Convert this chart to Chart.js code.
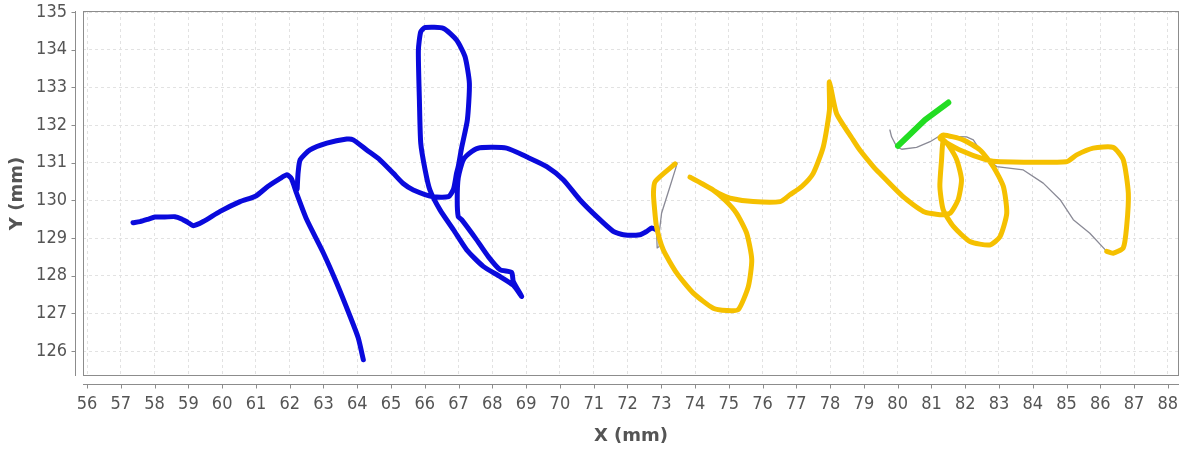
<!DOCTYPE html>
<html>
<head>
<meta charset="utf-8">
<script src="https://cdn.jsdelivr.net/npm/chart.js@4"></script>
<style>
  html, body { margin: 0; padding: 0; background: #fff; }
  canvas { display: block; }
</style>
</head>
<body>
<canvas id="trace" width="1184" height="452"></canvas>
<script>
// pen strokes, [x, y] in mm
const blueStroke1 = [
  [57.36, 129.41], [57.57, 129.44], [57.8, 129.5], [58.01, 129.56], [58.3, 129.56],
  [58.6, 129.57], [58.8, 129.51], [58.98, 129.42], [59.15, 129.33], [59.44, 129.44],
  [59.94, 129.71], [60.53, 129.97], [61.0, 130.12], [61.35, 130.37], [61.71, 130.58],
  [61.92, 130.68], [62.05, 130.58], [62.2, 130.2], [62.5, 129.5], [63.0, 128.6],
  [63.39, 127.81], [63.79, 126.92], [64.03, 126.35], [64.18, 125.77]
];
const blueStroke2 = [
  [62.22, 130.3], [62.25, 130.75], [62.31, 131.08], [62.6, 131.34], [63.1, 131.52],
  [63.69, 131.63], [63.88, 131.61], [64.28, 131.34], [64.67, 131.08], [65.07, 130.72],
  [65.36, 130.45], [65.66, 130.28], [66.25, 130.1], [66.7, 130.1], [66.85, 130.3],
  [66.94, 130.72], [66.99, 130.9], [67.09, 131.4], [67.26, 132.14], [67.32, 133.11],
  [67.19, 133.82], [66.94, 134.26], [66.55, 134.57], [66.01, 134.59], [65.88, 134.48],
  [65.81, 133.99], [65.84, 132.67], [65.88, 131.52], [66.01, 130.81], [66.15, 130.28],
  [66.45, 129.75], [66.85, 129.22], [67.24, 128.69], [67.73, 128.25], [68.23, 127.98],
  [68.62, 127.75], [68.87, 127.45], [68.62, 127.85], [68.57, 128.09], [68.23, 128.16],
  [67.88, 128.51], [67.53, 128.96], [67.09, 129.49], [66.99, 129.57], [66.96, 130.02],
  [66.99, 130.6], [67.14, 131.08], [67.39, 131.3], [67.63, 131.4], [68.42, 131.39],
  [69.01, 131.16], [69.61, 130.9], [70.1, 130.55], [70.59, 130.02], [71.09, 129.57],
  [71.58, 129.18], [71.88, 129.09], [72.37, 129.09], [72.57, 129.18], [72.72, 129.27],
  [72.86, 129.22]
];
const grayStroke1 = [
  [72.86, 129.22], [72.88, 128.74], [72.94, 128.78], [72.94, 129.13], [73.01, 129.66],
  [73.26, 130.37], [73.43, 130.86], [73.47, 130.99], [73.41, 130.97]
];
const yellowStroke = [
  [73.41, 130.97], [72.82, 130.5], [72.77, 130.19], [72.8, 129.8], [72.86, 129.31],
  [73.06, 128.69], [73.46, 128.07], [73.95, 127.54], [74.54, 127.14], [74.94, 127.08],
  [75.28, 127.1], [75.58, 127.72], [75.68, 128.43], [75.53, 129.13], [75.23, 129.66],
  [74.9, 130.0], [74.5, 130.3], [74.1, 130.5], [73.85, 130.62], [74.2, 130.45],
  [74.74, 130.17], [75.04, 130.06], [75.72, 129.97], [76.52, 129.97], [76.81, 130.15],
  [77.16, 130.37], [77.5, 130.72], [77.8, 131.43], [77.98, 132.4], [77.98, 133.15],
  [78.19, 132.31], [78.68, 131.61], [78.88, 131.34], [79.28, 130.9], [79.47, 130.72],
  [80.16, 130.1], [80.76, 129.71], [81.25, 129.62], [81.55, 129.66], [81.79, 130.02],
  [81.89, 130.55], [81.75, 131.08], [81.5, 131.47], [81.35, 131.6], [81.3, 131.08],
  [81.25, 130.37], [81.35, 129.75], [81.65, 129.31], [82.14, 128.91], [82.73, 128.82],
  [83.03, 129.04], [83.23, 129.66], [83.13, 130.37], [82.83, 130.9], [82.44, 131.34],
  [81.94, 131.61], [81.35, 131.74], [81.25, 131.65], [81.84, 131.34], [82.63, 131.08],
  [83.03, 131.03], [85.0, 131.03], [85.3, 131.21], [85.79, 131.39], [86.38, 131.41],
  [86.68, 131.08], [86.83, 130.19], [86.78, 129.31], [86.68, 128.74], [86.38, 128.6],
  [86.19, 128.65]
];
const grayStroke2 = [
  [79.77, 131.87], [79.82, 131.69], [79.97, 131.43], [80.12, 131.36], [80.56, 131.41],
  [80.96, 131.56], [81.2, 131.69], [81.4, 131.71], [82.04, 131.69], [82.24, 131.61],
  [82.44, 131.34], [82.49, 131.25], [82.93, 130.9], [83.72, 130.81], [84.31, 130.46],
  [84.81, 130.02], [85.2, 129.49], [85.69, 129.13], [86.19, 128.65]
];
const greenStroke = [
  [80.01, 131.45], [80.81, 132.14], [81.5, 132.6]
];

const xTickValues = [56, 57, 58, 59, 60, 61, 62, 63, 64, 65, 66, 67, 68, 69, 70, 71, 72,
  73, 74, 75, 76, 77, 78, 79, 80, 81, 82, 83, 84, 85, 86, 87, 88];
const yTickValues = [126, 127, 128, 129, 130, 131, 132, 133, 134, 135];

const toPoints = (arr) => arr.map(([x, y]) => ({ x, y }));

function stroke(data, color, width, tension) {
  return {
    data: toPoints(data),
    borderColor: color,
    borderWidth: width,
    showLine: true,
    pointRadius: 0,
    tension: tension,
    borderCapStyle: "round",
    borderJoinStyle: "round",
  };
}

// box around the plot plus the detached axis lines with small ticks
const framePlugin = {
  id: "frame",
  beforeDatasetsDraw(chart) {
    const { ctx, chartArea: a, scales } = chart;
    ctx.save();
    ctx.strokeStyle = "#8c8c8c";
    ctx.lineWidth = 1;
    ctx.strokeRect(a.left + 0.5, a.top + 0.5, a.width - 1, a.height - 1);

    const axX = a.left - 7.5;
    const axY = a.bottom + 8.5;
    ctx.beginPath();
    ctx.moveTo(axX, a.top);
    ctx.lineTo(axX, a.bottom);
    ctx.moveTo(a.left, axY);
    ctx.lineTo(a.right, axY);
    scales.x.ticks.forEach((t) => {
      const px = Math.round(scales.x.getPixelForValue(t.value)) + 0.5;
      ctx.moveTo(px, axY);
      ctx.lineTo(px, axY + 4);
    });
    scales.y.ticks.forEach((t) => {
      const py = Math.round(scales.y.getPixelForValue(t.value)) + 0.5;
      ctx.moveTo(axX, py);
      ctx.lineTo(axX - 4, py);
    });
    ctx.stroke();
    ctx.restore();
  },
};

const tickFont = { family: "Tahoma, 'DejaVu Sans Condensed', 'Liberation Sans', sans-serif", size: 18 };
const titleFont = { family: "Tahoma, 'DejaVu Sans', sans-serif", size: 18, weight: "bold" };

new Chart(document.getElementById("trace"), {
  type: "scatter",
  data: {
    datasets: [
      stroke(greenStroke, "#22dd22", 6, 0),
      stroke(yellowStroke, "#f5c000", 5, 0.2),
      stroke(blueStroke1, "#0a0adc", 5, 0.2),
      stroke(blueStroke2, "#0a0adc", 5, 0.2),
      stroke(grayStroke1, "#8a8a96", 1.3, 0),
      stroke(grayStroke2, "#8a8a96", 1.3, 0),
    ],
  },
  options: {
    responsive: false,
    animation: false,
    layout: { padding: { top: 11, right: 5, left: 0, bottom: 0 } },
    plugins: { legend: { display: false }, tooltip: { enabled: false } },
    scales: {
      x: {
        type: "linear",
        min: 55.88,
        max: 88.33,
        afterBuildTicks: (s) => { s.ticks = xTickValues.map((v) => ({ value: v })); },
        afterFit: (s) => { s.height = 76; s.paddingLeft = 0; s.paddingRight = 0; },
        grid: { color: "#e2e2e2", drawTicks: false },
        border: { display: false, dash: [3, 3] },
        ticks: { color: "#555", font: tickFont, padding: 18, maxRotation: 0, autoSkip: false },
        title: { display: true, text: "X (mm)", color: "#555", font: titleFont, padding: { top: 0, bottom: 5 } },
      },
      y: {
        type: "linear",
        min: 125.34,
        max: 135.03,
        afterBuildTicks: (s) => { s.ticks = yTickValues.map((v) => ({ value: v })); },
        afterFit: (s) => { s.width = 83; s.paddingTop = 0; s.paddingBottom = 0; },
        grid: { color: "#e2e2e2", drawTicks: false },
        border: { display: false, dash: [3, 3] },
        ticks: { color: "#555", font: tickFont, padding: 16, autoSkip: false },
        title: { display: true, text: "Y (mm)", color: "#555", font: titleFont, padding: { top: 7, bottom: 0 } },
      },
    },
  },
  plugins: [framePlugin],
});
</script>
</body>
</html>
